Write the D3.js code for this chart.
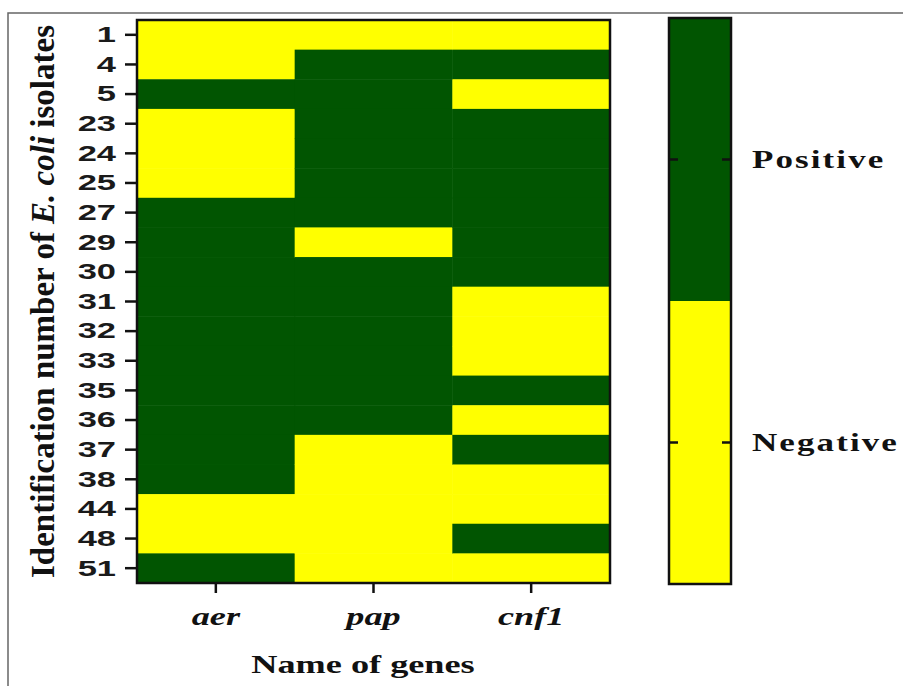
<!DOCTYPE html>
<html>
<head>
<meta charset="utf-8">
<script src="https://cdn.jsdelivr.net/npm/d3@7"></script>
<style>
  body { margin: 0; background: #fff; }
</style>
</head>
<body>
<svg id="chart"></svg>
<script>
const width = 903
const height = 686

// Data: 1 = positive, 0 = negative
const isolates = ['1', '4', '5', '23', '24', '25', '27', '29', '30', '31', '32', '33', '35', '36', '37', '38', '44', '48', '51'];
const genes = ['aer', 'pap', 'cnf1'];
const aer  = [0, 0, 1, 0, 0, 0, 1, 1, 1, 1, 1, 1, 1, 1, 1, 1, 0, 0, 1];
const pap  = [0, 1, 1, 1, 1, 1, 1, 0, 1, 1, 1, 1, 1, 1, 0, 0, 0, 0, 0];
const cnf1 = [0, 1, 0, 1, 1, 1, 1, 1, 1, 0, 0, 0, 1, 0, 1, 0, 0, 1, 0];
const legendLabels = ['Positive', 'Negative'];

const green = '#015501';
const yellow = '#ffff00';
const serif = 'Liberation Serif, Times New Roman, serif';

var svg = d3.select('#chart')
    .attr('width', width)
    .attr('height', height);

// the original figure is stretched sideways, so text gets a horizontal scale
function stretch(sel, sx) {
    sel.each(function () {
        var t = d3.select(this);
        var x = +t.attr('x') || 0;
        t.attr('x', 0).attr('transform', `translate(${x},0) scale(${sx},1)`);
    });
}

// outer frame (only left and top edges visible)
svg.append('path')
    .attr('d', `M8,${height} V13 H${width}`)
    .attr('fill', 'none')
    .attr('stroke', '#666')
    .attr('stroke-width', 1.5);

var plot = { left: 137, top: 20, right: 610, bottom: 583 };

var xScale = d3.scaleBand()
    .domain(genes)
    .range([plot.left, plot.right]);

var yScale = d3.scaleBand()
    .domain(isolates)
    .range([plot.top, plot.bottom]);

var series = { aer: aer, pap: pap, cnf1: cnf1 };
var cells = [];
genes.forEach(g => {
    isolates.forEach((id, i) => {
        cells.push({ gene: g, id: id, value: series[g][i] });
    });
});

svg.append('g')
    .selectAll('rect')
    .data(cells)
    .enter()
    .append('rect')
    .attr('x', d => xScale(d.gene))
    .attr('y', d => yScale(d.id))
    .attr('width', xScale.bandwidth() + 0.5)
    .attr('height', yScale.bandwidth() + 0.5)
    .attr('fill', d => d.value ? green : yellow);

// plot border
svg.append('rect')
    .attr('x', plot.left)
    .attr('y', plot.top)
    .attr('width', plot.right - plot.left)
    .attr('height', plot.bottom - plot.top)
    .attr('fill', 'none')
    .attr('stroke', '#111')
    .attr('stroke-width', 2.5);

// y axis
var yAxis = svg.append('g')
    .attr('transform', `translate(${plot.left},0)`)
    .call(d3.axisLeft(yScale).tickSize(12).tickPadding(9));
yAxis.select('.domain').remove();
yAxis.selectAll('line').attr('stroke', '#111').attr('stroke-width', 2.5);
yAxis.selectAll('text')
    .attr('fill', '#1a1a1a')
    .style('font-family', 'Liberation Sans, Arial, sans-serif')
    .style('font-weight', 'bold')
    .style('font-size', '23px')
    .call(stretch, 1.5);

// x axis
var xAxis = svg.append('g')
    .attr('transform', `translate(0,${plot.bottom})`)
    .call(d3.axisBottom(xScale).tickSize(10).tickPadding(14));
xAxis.select('.domain').remove();
xAxis.selectAll('line').attr('stroke', '#111').attr('stroke-width', 2.5);
xAxis.selectAll('text')
    .attr('fill', '#111')
    .style('font-family', serif)
    .style('font-weight', 'bold')
    .style('font-style', 'italic')
    .style('font-size', '25px')
    .call(stretch, 1.45);

// axis titles
svg.append('text')
    .attr('transform', `translate(363,673) scale(1.45,1)`)
    .attr('text-anchor', 'middle')
    .attr('fill', '#111')
    .style('font-family', serif)
    .style('font-weight', 'bold')
    .style('font-size', '25px')
    .text('Name of genes');

var yTitle = svg.append('text')
    .attr('transform', `translate(54,${(plot.top + plot.bottom) / 2}) rotate(-90)`)
    .attr('text-anchor', 'middle')
    .attr('fill', '#111')
    .style('font-family', serif)
    .style('font-weight', 'bold')
    .style('font-size', '33px');
yTitle.append('tspan').text('Identification number of ');
yTitle.append('tspan').style('font-style', 'italic').text('E. coli');
yTitle.append('tspan').text(' isolates');

// legend colour bar
var legend = { left: 669, right: 731, top: 18, bottom: 584 };
var lScale = d3.scaleBand()
    .domain(legendLabels)
    .range([legend.top, legend.bottom]);

svg.append('g')
    .selectAll('rect')
    .data(legendLabels)
    .enter()
    .append('rect')
    .attr('x', legend.left)
    .attr('y', d => lScale(d))
    .attr('width', legend.right - legend.left)
    .attr('height', lScale.bandwidth())
    .attr('fill', d => d === 'Positive' ? green : yellow);

svg.append('rect')
    .attr('x', legend.left)
    .attr('y', legend.top)
    .attr('width', legend.right - legend.left)
    .attr('height', legend.bottom - legend.top)
    .attr('fill', 'none')
    .attr('stroke', '#111')
    .attr('stroke-width', 2.5);

// small inner tick marks on both sides of the legend bar
var lt = svg.append('g');
legendLabels.forEach(d => {
    var cy = lScale(d) + lScale.bandwidth() / 2;
    [[legend.left, legend.left + 9], [legend.right - 9, legend.right]].forEach(seg => {
        lt.append('line')
            .attr('x1', seg[0]).attr('x2', seg[1])
            .attr('y1', cy).attr('y2', cy)
            .attr('stroke', '#111')
            .attr('stroke-width', 2.5);
    });
});

var lAxis = svg.append('g')
    .attr('transform', `translate(${legend.right},0)`)
    .call(d3.axisRight(lScale).tickSize(0).tickPadding(21));
lAxis.select('.domain').remove();
lAxis.selectAll('text')
    .attr('fill', '#111')
    .style('font-family', serif)
    .style('font-weight', 'bold')
    .style('font-size', '25px')
    .style('letter-spacing', '1.5px')
    .call(stretch, 1.4);
</script>
</body>
</html>
